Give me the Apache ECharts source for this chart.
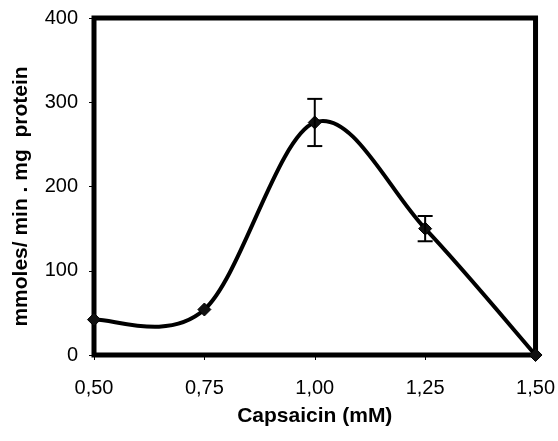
<!DOCTYPE html>
<html>
<head>
<meta charset="utf-8">
<script src="https://cdn.jsdelivr.net/npm/echarts@6/dist/echarts.min.js"></script>
<style>
html,body{margin:0;padding:0;background:#fff;}
#chart{width:558px;height:441px;}
</style>
</head>
<body>
<div id="chart"></div>
<script>
var concentrations = [0.50, 0.75, 1.00, 1.25, 1.50];
var activity = [42, 54, 276, 150, 0];
var errors = [0, 0, 28, 15, 0];
var yTicks = [0, 100, 200, 300, 400];

var FONT = '"Liberation Sans", Arial, sans-serif';
var chart = echarts.init(document.getElementById('chart'));

var pointData = concentrations.map(function (c, i) { return [c, activity[i]]; });
var errData = [];
concentrations.forEach(function (c, i) {
  if (errors[i] > 0) errData.push([c, activity[i] - errors[i], activity[i] + errors[i]]);
});

// Excel-like smoothed line (Catmull-Rom Bezier) through the data, in pixel space
function renderCurve(params, api) {
  if (params.dataIndex !== 0) return null;
  var pts = pointData.map(function (d) { return api.coord(d); });
  var n = pts.length;
  var path = 'M' + pts[0][0] + ',' + pts[0][1];
  for (var i = 0; i < n - 1; i++) {
    var p0 = pts[Math.max(i - 1, 0)], p1 = pts[i], p2 = pts[i + 1], p3 = pts[Math.min(i + 2, n - 1)];
    var c1x = p1[0] + (p2[0] - p0[0]) / 6, c1y = p1[1] + (p2[1] - p0[1]) / 6;
    var c2x = p2[0] - (p3[0] - p1[0]) / 6, c2y = p2[1] - (p3[1] - p1[1]) / 6;
    path += ' C' + c1x + ',' + c1y + ' ' + c2x + ',' + c2y + ' ' + p2[0] + ',' + p2[1];
  }
  return {
    type: 'path',
    shape: { pathData: path },
    style: { stroke: '#000', lineWidth: 4, fill: null, lineJoin: 'round', lineCap: 'round' }
  };
}

chart.setOption({
  animation: false,
  backgroundColor: '#fff',
  grid: {
    left: 94, right: 21, top: 18, bottom: 86,
    show: true, borderColor: '#000', borderWidth: 5, backgroundColor: 'transparent'
  },
  xAxis: {
    type: 'value', min: 0.5, max: 1.5, interval: 0.25,
    name: 'Capsaicin (mM)', nameLocation: 'middle', nameGap: 51,
    nameTextStyle: { fontFamily: FONT, fontSize: 21, fontWeight: 'bold', color: '#000' },
    axisLine: { show: false },
    axisTick: { show: true, length: 5, inside: false, lineStyle: { color: '#000', width: 1 } },
    axisLabel: {
      margin: 23, color: '#000', fontFamily: FONT, fontSize: 20,
      formatter: function (v) { return v.toFixed(2).replace('.', ','); }
    },
    splitLine: { show: false }
  },
  yAxis: {
    type: 'value', min: 0, max: 400, interval: 100,
    name: 'mmoles/ min . mg  protein', nameLocation: 'middle', nameGap: 62,
    nameTextStyle: { fontFamily: FONT, fontSize: 21, fontWeight: 'bold', color: '#000', padding: [0, 20, 0, 0] },
    axisLine: { show: false },
    axisTick: { show: true, length: 5, lineStyle: { color: '#000', width: 1 } },
    axisLabel: {
      margin: 16, color: '#000', fontFamily: FONT, fontSize: 20,
      formatter: function (v) { return yTicks.indexOf(v) >= 0 ? String(v) : ''; }
    },
    splitLine: { show: false }
  },
  series: [
    {
      type: 'custom', data: pointData, renderItem: renderCurve, z: 2, silent: true
    },
    {
      type: 'scatter', data: pointData,
      symbol: 'diamond', symbolSize: 13,
      itemStyle: { color: '#111', borderColor: '#000', borderWidth: 1, opacity: 1 },
      z: 3
    },
    {
      type: 'custom', data: errData, z: 4,
      renderItem: function (params, api) {
        var x = api.value(0);
        var lo = api.coord([x, api.value(1)]);
        var hi = api.coord([x, api.value(2)]);
        var hw = 7.5;
        var st = { stroke: '#000', lineWidth: 2 };
        return {
          type: 'group',
          children: [
            { type: 'line', shape: { x1: lo[0], y1: lo[1], x2: hi[0], y2: hi[1] }, style: st },
            { type: 'line', shape: { x1: lo[0] - hw, y1: lo[1], x2: lo[0] + hw, y2: lo[1] }, style: st },
            { type: 'line', shape: { x1: hi[0] - hw, y1: hi[1], x2: hi[0] + hw, y2: hi[1] }, style: st }
          ]
        };
      }
    }
  ]
});
</script>
</body>
</html>
